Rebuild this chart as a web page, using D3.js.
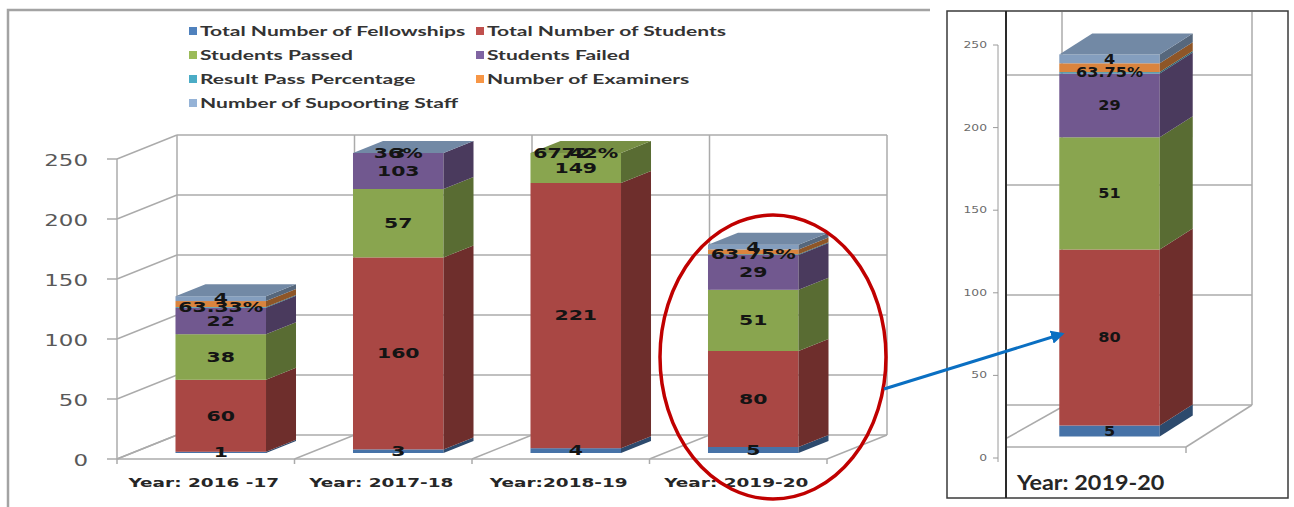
<!DOCTYPE html>
<html><head><meta charset="utf-8">
<script src="https://cdn.jsdelivr.net/npm/d3@7"></script>
<style>html,body{margin:0;padding:0;background:#fff;} svg{display:block;}</style>
</head><body><svg id="c" width="1294" height="507"></svg>
<script>
// ---------------- data ----------------
const categories = ["Year: 2016 -17", "Year: 2017-18", "Year:2018-19", "Year: 2019-20"];
const seriesNames = ["Total Number of Fellowships", "Total Number of Students", "Students Passed",
  "Students Failed", "Result Pass Percentage", "Number of Examiners", "Number of Supoorting Staff"];
const fellowships = [1, 3, 4, 5];
const students = [60, 160, 221, 80];
const passed = [38, 57, 149, 51];
const failed = [22, 103, 72, 29];
const passPct = [0.6333, 0.36, 0.6742, 0.6375];
const examiners = [5, 6, null, 4];
const staff = [4, 3, null, 4];
const yTicks = [0, 50, 100, 150, 200, 250];
const zoomCategory = "Year: 2019-20";
const seriesColors = ["#4f81bd", "#c0504d", "#9bbb59", "#8064a2", "#4bacc6", "#f79646", "#95b3d7"];
const showLabel = [true, true, true, true, true, false, true];

const seriesValues = [fellowships, students, passed, failed, passPct, examiners, staff];
const pctFmt = d3.format(".2~%");
const intFmt = d3.format("d");
const fmt = (si, v) => si === 4 ? pctFmt(v) : intFmt(v);

const svg = d3.select("#c");
const GRID = "#ababab";

function stretchedText(g, x, y, str, o) {
  return g.append("text")
    .attr("transform", `translate(${x},${y}) scale(${o.sx || 1},1)`)
    .attr("text-anchor", o.anchor || "middle")
    .attr("dominant-baseline", o.baseline || "central")
    .attr("font-family", o.family || "DejaVu Sans")
    .attr("font-size", o.size)
    .attr("font-weight", o.weight || "normal")
    .attr("fill", o.fill || "#000")
    .text(str);
}

// build stacked segments for a category index
function stackFor(ci, maxV) {
  const segs = [];
  let base = 0;
  seriesValues.forEach((arr, si) => {
    const v = arr[ci];
    if (v === null || v === undefined) return;
    const y0 = base, y1 = base + v;
    segs.push({ si, v, y0, y1, c0: Math.min(y0, maxV), c1: Math.min(y1, maxV) });
    base = y1;
  });
  return segs;
}

// generic 3D stacked column drawing
function drawBars(g, cats, x, y, D, widthFrac, maxV, lab) {
  const fx = 0.25, bx = 0.5; // bar front at 1/4 depth, bar depth 1/2
  cats.forEach(cat => {
    const ci = categories.indexOf(cat);
    const segs = stackFor(ci, maxV);
    const bw = x.bandwidth() * widthFrac;
    const xl = x(cat) + x.bandwidth() / 2 - bw / 2 + D[0] * fx;
    const xr = xl + bw;
    const oy = D[1] * fx;
    const sdx = D[0] * bx, sdy = D[1] * bx;
    const gb = g.append("g");
    segs.forEach(s => {
      if (s.c1 <= s.c0) return;
      const base = d3.color(seriesColors[s.si]);
      const ya = y(s.c0) + oy, yb = y(s.c1) + oy;
      gb.append("rect").attr("x", xl).attr("y", yb).attr("width", bw).attr("height", ya - yb)
        .attr("fill", base.darker(0.35));
      gb.append("path")
        .attr("d", `M${xr},${ya}L${xr + sdx},${ya + sdy}L${xr + sdx},${yb + sdy}L${xr},${yb}Z`)
        .attr("fill", base.darker(1.55));
    });
    // top face: last series if present, else last segment that starts below the cap
    const lastSeries = seriesValues.length - 1;
    let top = segs.find(s => s.si === lastSeries);
    if (!top) top = segs.filter(s => s.y0 < maxV).slice(-1)[0];
    const capV = Math.min(segs[segs.length - 1].y1, maxV);
    const yt = y(capV) + oy;
    gb.append("path")
      .attr("d", `M${xl},${yt}L${xr},${yt}L${xr + sdx},${yt + sdy}L${xl + sdx},${yt + sdy}Z`)
      .attr("fill", d3.color(seriesColors[top.si]).darker(0.75));
    // labels
    segs.forEach(s => {
      if (!showLabel[s.si]) return;
      const mid = (s.c0 + s.c1) / 2;
      stretchedText(g, (xl + xr) / 2, y(mid) + oy, fmt(s.si, s.v),
        { size: lab.size, weight: "bold", sx: lab.sx, fill: "#141414" });
    });
  });
}

// ---------------- left chart ----------------
const L = svg.append("g");
// frame
L.append("path").attr("d", "M8,507L8,10L930,10").attr("fill", "none")
  .attr("stroke", "#a3a3a3").attr("stroke-width", 2.5);

// legend
const legend = L.append("g");
seriesNames.forEach((n, i) => {
  const col = i % 2, row = Math.floor(i / 2);
  const lx = 189 + col * 287, ly = 31 + row * 24;
  legend.append("rect").attr("x", lx).attr("y", ly - 4).attr("width", 8).attr("height", 8)
    .attr("fill", seriesColors[i]);
  stretchedText(legend, lx + 11, ly, n,
    { family: "Lato", weight: "bold", size: 13, sx: 1.62, anchor: "start", fill: "#333" });
});

const xL = d3.scaleBand().domain(categories).range([117, 827]);
const yL = d3.scaleLinear().domain([0, 250]).range([459, 159]);
const DL = [60, -24];

const walls = L.append("g").attr("fill", "none").attr("stroke", GRID).attr("stroke-width", 1.5);
// back wall horizontal gridlines
yTicks.forEach(t => {
  walls.append("line").attr("x1", 117 + DL[0]).attr("x2", 827 + DL[0])
    .attr("y1", yL(t) + DL[1]).attr("y2", yL(t) + DL[1]);
  // side wall diagonals
  walls.append("line").attr("x1", 117).attr("y1", yL(t)).attr("x2", 117 + DL[0]).attr("y2", yL(t) + DL[1]);
  // tick marks
  walls.append("line").attr("x1", 107).attr("x2", 117).attr("y1", yL(t)).attr("y2", yL(t));
});
// back wall verticals + floor diagonals + floor ticks
const bounds = categories.map(c => xL(c)).concat([xL.range()[1]]);
bounds.forEach(bx => {
  walls.append("line").attr("x1", bx + DL[0]).attr("x2", bx + DL[0])
    .attr("y1", yL(0) + DL[1]).attr("y2", yL(250) + DL[1]);
  walls.append("line").attr("x1", bx).attr("y1", yL(0)).attr("x2", bx + DL[0]).attr("y2", yL(0) + DL[1]);
  walls.append("line").attr("x1", bx).attr("x2", bx).attr("y1", yL(0)).attr("y2", yL(0) + 5);
});
// front axis & floor front edge
walls.append("line").attr("x1", 117).attr("x2", 117).attr("y1", yL(0)).attr("y2", yL(250));
walls.append("line").attr("x1", 117).attr("x2", 827).attr("y1", yL(0)).attr("y2", yL(0));

// tick labels
yTicks.forEach(t => stretchedText(L, 88, yL(t) + 2, String(t),
  { size: 15.5, anchor: "end", sx: 1.48, fill: "#595959" }));
// category labels
categories.forEach(c => stretchedText(L, xL(c) + xL.bandwidth() / 2 - 2, 483, c,
  { size: 13, weight: "bold", sx: 1.42, fill: "#262626" }));

drawBars(L, categories, xL, yL, DL, 0.51, 250, { size: 14, sx: 1.46 });

// ---------------- right (zoomed) panel ----------------
const R = svg.append("g");
const xR = d3.scaleBand().domain([zoomCategory]).range([1000, 1186]);
const yR = d3.scaleLinear().domain([0, 250]).range([447, -103]);
const yRaxis = d3.scaleLinear().domain([0, 250]).range([458, 45]);
const DR = [66, -42];

const rw = R.append("g").attr("fill", "none").attr("stroke", GRID).attr("stroke-width", 1.5);
yTicks.forEach(t => {
  const yy = yR(t) + DR[1];
  if (yy < 12) return;
  rw.append("line").attr("x1", 1007).attr("x2", 1186 + DR[0]).attr("y1", yy).attr("y2", yy);
});
rw.append("line").attr("x1", 1000 + DR[0] - 4).attr("x2", 1000 + DR[0] - 4).attr("y1", 12).attr("y2", yR(0) + DR[1]);
rw.append("line").attr("x1", 1186 + DR[0]).attr("x2", 1186 + DR[0]).attr("y1", 12).attr("y2", yR(0) + DR[1]);
rw.append("line").attr("x1", 1007).attr("x2", 1186).attr("y1", yR(0)).attr("y2", yR(0));
rw.append("line").attr("x1", 1186).attr("x2", 1186).attr("y1", yR(0)).attr("y2", yR(0) + 6);
rw.append("line").attr("x1", 1186).attr("y1", yR(0)).attr("x2", 1186 + DR[0]).attr("y2", yR(0) + DR[1]);
rw.append("line").attr("x1", 1007).attr("y1", yR(0) - 9).attr("x2", 1000 + DR[0] - 4).attr("y2", yR(0) + DR[1] + 2);

// right axis
const ra = R.append("g").attr("stroke", "#9a9a9a").attr("stroke-width", 1);
ra.append("line").attr("x1", 998).attr("x2", 998).attr("y1", yRaxis(250)).attr("y2", yRaxis(0) + 4);
yTicks.forEach(t => {
  ra.append("line").attr("x1", 993).attr("x2", 998).attr("y1", yRaxis(t)).attr("y2", yRaxis(t));
  stretchedText(R, 987, yRaxis(t), String(t), { size: 9.5, anchor: "end", sx: 1.3, fill: "#6b6b6b" });
});

drawBars(R, [zoomCategory], xR, yR, DR, 0.54, 250, { size: 14, sx: 1.15 });

// frame of the right panel
R.append("rect").attr("x", 947).attr("y", 11).attr("width", 341).attr("height", 487)
  .attr("fill", "none").attr("stroke", "#3a3a3a").attr("stroke-width", 1.5);
R.append("line").attr("x1", 1006).attr("x2", 1006).attr("y1", 11).attr("y2", 498)
  .attr("stroke", "#2a2a2a").attr("stroke-width", 2);
stretchedText(R, 1017, 490, zoomCategory,
  { family: "Lato", weight: "bold", size: 20, sx: 1.17, anchor: "start", baseline: "auto", fill: "#262626" });

// ---------------- annotations ----------------
const A = svg.append("g");
A.append("ellipse").attr("cx", 773).attr("cy", 357).attr("rx", 113).attr("ry", 142)
  .attr("fill", "none").attr("stroke", "#c00000").attr("stroke-width", 3.5);
svg.append("defs").append("marker").attr("id", "ah").attr("viewBox", "0 0 10 10")
  .attr("refX", 8).attr("refY", 5).attr("markerWidth", 4.5).attr("markerHeight", 4.5)
  .attr("orient", "auto").append("path").attr("d", "M0,0L10,5L0,10Z").attr("fill", "#0a6fc2");
A.append("line").attr("x1", 884).attr("y1", 389).attr("x2", 1062).attr("y2", 334)
  .attr("stroke", "#0a6fc2").attr("stroke-width", 3).attr("marker-end", "url(#ah)");
</script>
</body></html>
